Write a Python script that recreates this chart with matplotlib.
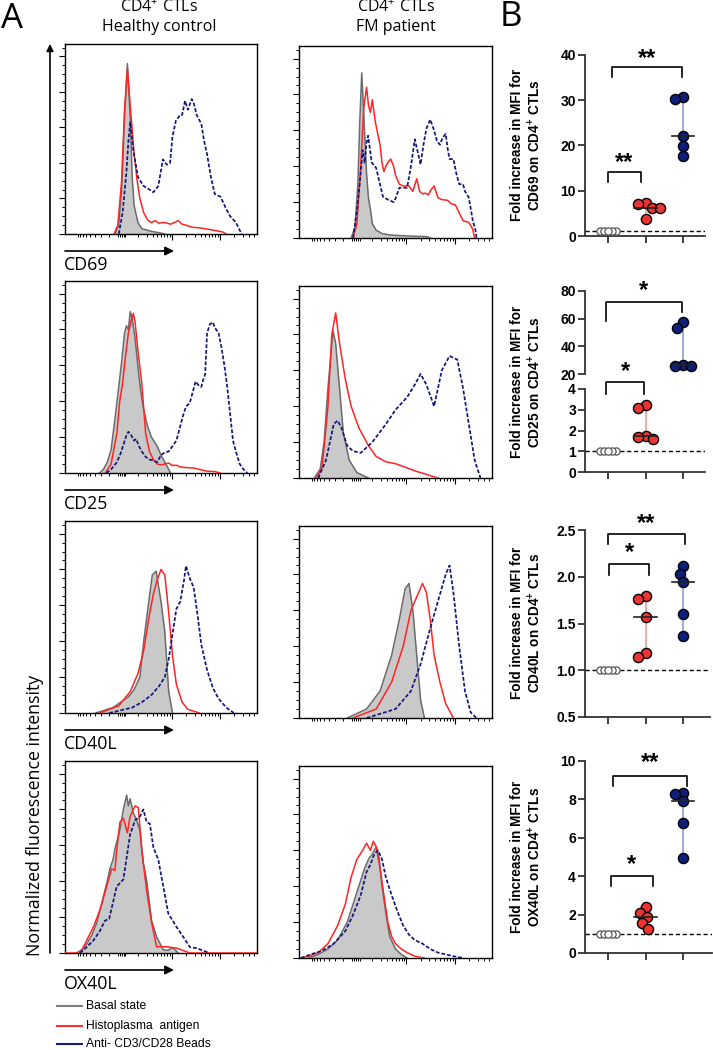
import numpy as np
import matplotlib
matplotlib.use('Agg')
import matplotlib.pyplot as plt

plt.rcParams['mathtext.fontset'] = 'custom'
plt.rcParams['mathtext.rm'] = 'Open Sans'
plt.rcParams['mathtext.bf'] = 'Liberation Sans:bold'

# ---------------- Panel A data: histograms (channel position 0-100, % of mode) --------------
HC_CD69_BASAL = [(26,0),(28,5),(29.5,25),(31,65),(32.5,96),(34,65),(35,32),(36,16),(38,6.5),(40,3),(45,1.5),(50,0.5),(52,0)]
HC_CD69_ANTIGEN = [(25.5,0),(27.5,5),(29.5,30),(31,70),(32.5,93),(34,72),(36,45),(37.6,30),(39,20),(41,12),(43,8),(45,6.4),(47,7.5),(49,6),(51,6.5),(53,6.2),(55,5.5),(57,6.5),(59,7.5),(61,5.5),(63,5),(66,3.8),(70,3.5),(74,2.8),(78,2),(82,1.2),(84,0)]
HC_CD69_BEADS = [(28,0),(30,12),(32,35),(33,52),(34,63),(35.6,47),(38,32),(41,27),(44,25),(46,23.5),(48.6,27),(51,42),(53,39),(54.7,40),(56,55),(57.8,64),(60,67),(61,67),(62.5,75),(64,70),(66,76),(67,74),(68.6,67),(71,62),(72.5,52),(74,45),(76,32),(78,22.5),(81,21),(84,14),(86,10),(89,6.5),(92,0)]

FM_CD69_BASAL = [(27,0),(29,6),(30.5,30),(31.5,65),(32.5,92),(33.5,70),(35,36),(36,22),(37,16),(38,8),(40,4.3),(43,2.5),(47,1.7),(50,1.5),(55,1.2),(60,1),(66,0.8),(68,0)]
FM_CD69_ANTIGEN = [(28,0),(30,8),(32,40),(33.5,72),(35,84),(36,74),(37,70),(38,77),(39.5,65),(41,57),(42,52),(43,42),(44,37),(45,40),(46,42),(47.5,44),(49,40),(50,35),(52,30),(54,29),(57,29),(59,26),(61,33),(62.5,26),(64,24.6),(65.5,25),(67,24),(68.5,27),(70,29),(72,22.5),(74,21.4),(77,21),(79,19),(81,18.5),(83,14),(85,9.6),(87,9),(88,8.6),(90,5),(91,0)]
FM_CD69_BEADS = [(28,0),(30,15),(31.6,32),(33,49),(34,42),(35,53),(35.8,57),(37.7,42),(40,39),(41.5,32),(43.5,23),(46,21.4),(49,20),(50,22),(52,28),(54,28),(56,28),(58,40),(60,55),(61.5,48),(63,41),(64.5,52),(66,61),(68,66),(70,60),(71.5,54),(73,52),(74.5,56),(76,58),(77,50),(78,44),(80,44),(81.5,36),(83,30),(85,30),(86,26),(88,22.5),(90,10),(91.5,4),(92,0)]

HC_CD25_BASAL = [(18,0),(20,2),(22,6),(24,13),(26,30),(28,48),(29.5,62),(31,78),(32,82),(33,80),(34,90),(35,86),(36.5,75),(38,59),(39.5,45),(41,35),(43,26),(45,20),(48,15),(50,10),(53,4),(55,0)]
HC_CD25_ANTIGEN = [(21,0),(24,5),(27,22),(28.5,40),(30,50),(31.5,65),(33,78),(34.5,85),(35.6,89),(36.5,84),(38,68),(40,50),(42,22),(44,12),(46,7.5),(48,5),(50,4.5),(52,5),(54,5.5),(56,4.2),(58,4.3),(60,3.4),(63,3),(67,2.8),(70,2),(74,1),(78,0.8),(81,0)]
HC_CD25_BEADS = [(21.5,0),(24,2),(27,6),(29,11),(30.5,16),(32,21),(33,23),(34.5,21),(36,18),(37,19),(38.5,15),(40,12),(42,9),(44,7.5),(46,7),(48,6),(50,10),(52,11.5),(54,12),(56,15),(58,18),(60,26),(61.5,32),(63,37),(65,39),(66.5,45),(68,51),(69.5,49),(71,48),(72,52),(73,55),(74,78),(75.5,83),(77,84),(78,81),(80,78),(81.5,70),(83,60),(84.5,48),(86,33),(87.5,18),(89,12),(91,5),(93,2),(95,0)]

FM_CD25_BASAL = [(8,0),(11,5),(13,20),(15,50),(17.6,82),(19,75),(21,50),(23,25),(26,10),(30,3),(36,0)]
FM_CD25_ANTIGEN = [(9,0),(12,6),(15,40),(17,80),(19,92),(21,75),(24,55),(27,40),(31,28),(36,18),(40,12),(45,9),(50,8),(55,6),(60,4),(66,2),(72,0)]
FM_CD25_BEADS = [(10,0),(14,10),(18,30),(20,32),(22,28),(25,18),(28,15),(32,14),(38,20),(45,30),(50,38),(56,45),(60,52),(63,58),(66,52),(70,40),(74,60),(78,68),(82,66),(85,50),(88,30),(91,10),(94,0)]

HC_CD40L_BASAL = [(16,0),(25,3),(33,9),(36,13),(39,20),(41,40),(44,65),(45.5,77),(47.5,79),(50,62),(52,45),(54,12),(56,0)]
HC_CD40L_ANTIGEN = [(18,0),(28,4),(34,12),(38,22),(41,35),(44,55),(46,66),(48,74),(50,80),(52,77),(54,56),(56,32),(58,16),(61,6),(64,2),(70,0)]
HC_CD40L_BEADS = [(23,0),(35,3),(40,6),(45,10),(49,15),(52,20),(54,30),(56,44),(58,58),(60,62),(62,74),(63,82),(65,75),(67,70),(69,55),(71,38),(74,24),(77,14),(80,8),(84,3),(88,0)]

FM_CD40L_BASAL = [(25,0),(35,5),(42,15),(48,35),(52,55),(55,72),(57,75),(59,60),(61,35),(63,10),(65,0)]
FM_CD40L_ANTIGEN = [(28,0),(40,5),(48,20),(54,40),(58,60),(62,70),(64,75),(66,70),(68,55),(70,35),(73,20),(76,8),(80,0)]
FM_CD40L_BEADS = [(35,0),(50,5),(58,15),(63,30),(68,50),(72,65),(76,80),(78,85),(80,70),(83,40),(86,15),(89,3),(92,0)]

HC_OX40L_BASAL = [(6,0),(9,2),(11.3,5),(14,10),(16.5,16.6),(19,27),(20.8,35),(22,40),(23.4,47),(25,52),(26,58),(28.6,68.5),(30.4,80),(32.1,88),(33,82),(33.9,86),(35.6,78),(37.3,74),(39,68.5),(40.8,50),(42.5,40.7),(45.1,18),(47.7,9),(51.2,1.7),(53.8,1.5),(55,2.5),(56.4,2.7),(59,0)]
HC_OX40L_ANTIGEN = [(0,0),(8,0),(11.3,7),(15,15),(18.2,24),(21.7,37),(24.3,47),(26,46),(26.9,57),(28.6,73),(30.4,75),(32.5,67),(33.9,76),(36.5,82),(38.2,81),(40,57),(42.5,35),(45.1,17),(47.7,3.5),(53,3.5),(58.1,2.7),(63.3,0.7),(65,0),(100,0)]
HC_OX40L_BEADS = [(7.8,0),(11,3),(14.8,7),(18,12),(20.8,18),(23,19),(26.9,37),(30.4,41),(33.9,66),(36.5,74),(39,76),(40.8,80),(42.5,73),(44.2,72),(46,59),(48.6,52),(51.2,37),(53.8,22),(58.1,14.5),(61.6,9),(65.1,3.2),(68.6,2.7),(73,0.9),(75,0)]

FM_OX40L_BASAL = [(5,0),(10,2),(15,5),(20,10),(25,20),(28,30),(31,40),(34,50),(36,55),(38,58),(40,62),(41.5,56),(43,40),(45,25),(47,12),(50,5),(53,2),(56,0)]
FM_OX40L_ANTIGEN = [(1,0),(5,1),(10,3),(15,8),(20,18),(24,30),(27,45),(30,55),(33,60),(35,64),(37,60),(38.5,65),(40,62),(42,50),(44,35),(46,20),(48,12),(50,8),(53,5),(56,3),(60,1),(65,0)]
FM_OX40L_BEADS = [(1,0),(6,2),(12,4),(18,8),(24,15),(28,24),(32,35),(35,48),(37,52),(39,58),(41,60),(43,55),(45,45),(48,35),(51,26),(54,18),(57,13),(60,10),(64,8),(68,5),(72,3),(76,2),(80,1),(85,0)]

MARKERS = ['CD69', 'CD25', 'CD40L', 'OX40L']
COLUMN_TITLES = ['CD4$^{+}$ CTLs\nHealthy control', 'CD4$^{+}$ CTLs\nFM patient']
LEGEND_LABELS = ['Basal state', 'Histoplasma  antigen', 'Anti- CD3/CD28 Beads']

# ---------------- Panel B data: fold increase in MFI ----------------
GROUPS = ['Basal', 'Histoplasma antigen', 'Anti-CD3/CD28']
CD69_BASAL = [1, 1, 1, 1, 1]
CD69_ANTIGEN = [7.4, 7.1, 6.2, 6.1, 3.8]
CD69_BEADS = [30.8, 30.2, 22.1, 19.9, 17.6]
CD25_BASAL = [1, 1, 1, 1, 1]
CD25_ANTIGEN = [3.22, 3.08, 1.75, 1.67, 1.57]
CD25_BEADS = [57.7, 53.6, 26.7, 25.6, 25.5]
CD40L_BASAL = [1, 1, 1, 1, 1]
CD40L_ANTIGEN = [1.79, 1.76, 1.57, 1.18, 1.14]
CD40L_BEADS = [2.11, 2.03, 1.94, 1.60, 1.37]
OX40L_BASAL = [1, 1, 1, 1, 1]
OX40L_ANTIGEN = [2.38, 2.10, 1.89, 1.55, 1.25]
OX40L_BEADS = [8.32, 8.30, 7.90, 6.79, 4.95]

# ---------------- figure ----------------
W, H = 713, 1050
fig = plt.figure(figsize=(W / 100, H / 100), dpi=100)

def px_axes(x0, y0, x1, y1, **kw):
    return fig.add_axes([x0 / W, 1 - y1 / H, (x1 - x0) / W, (y1 - y0) / H], **kw)

GRAY_FILL = '#c9c9c9'
GRAY_LINE = '#6b6b6b'
RED = '#ff2424'
NAVY = '#16167a'
FONT_A = 'Open Sans'
FONT_B = 'Liberation Sans'

dec = 25.1
major_x = [55.6, 80.7]
minor_x = []
for base in (30.5, 55.6, 80.7):
    for k in range(2, 10):
        p = base + dec * np.log10(k)
        if p < 99.5:
            minor_x.append(p)
for k in range(2, 10):
    minor_x.append(30.5 - dec * np.log10(k))
minor_x += [27.5, 28.5, 29.5, 30.5, 31.5]

def draw_hist(ax, basal, antigen, beads):
    bx, by = zip(*basal)
    rx, ry = zip(*antigen)
    ux, uy = zip(*beads)
    ax.fill_between(bx, by, 0, color=GRAY_FILL, lw=0, zorder=1)
    ax.plot(bx, by, color=GRAY_LINE, lw=1.1, zorder=2)
    ax.plot(rx, ry, color=RED, lw=1.1, zorder=3)
    ax.plot(ux, uy, color=NAVY, lw=1.25, ls=(0, (2.2, 1.1)), zorder=4)
    ax.set_xlim(0, 100)
    ax.set_ylim(0, 107)
    ax.set_yticks([0, 20, 40, 60, 80, 100])
    ax.set_yticks(np.arange(0, 106, 5), minor=True)
    ax.set_xticks(major_x)
    ax.set_xticks(minor_x, minor=True)
    ax.tick_params(axis='both', which='major', length=4, width=0.8, direction='out',
                   labelleft=False, labelbottom=False)
    ax.tick_params(axis='both', which='minor', length=2, width=0.7, direction='out')
    for s in ax.spines.values():
        s.set_linewidth(1.0)

hist_data = [
    (HC_CD69_BASAL, HC_CD69_ANTIGEN, HC_CD69_BEADS, FM_CD69_BASAL, FM_CD69_ANTIGEN, FM_CD69_BEADS),
    (HC_CD25_BASAL, HC_CD25_ANTIGEN, HC_CD25_BEADS, FM_CD25_BASAL, FM_CD25_ANTIGEN, FM_CD25_BEADS),
    (HC_CD40L_BASAL, HC_CD40L_ANTIGEN, HC_CD40L_BEADS, FM_CD40L_BASAL, FM_CD40L_ANTIGEN, FM_CD40L_BEADS),
    (HC_OX40L_BASAL, HC_OX40L_ANTIGEN, HC_OX40L_BEADS, FM_OX40L_BASAL, FM_OX40L_ANTIGEN, FM_OX40L_BEADS),
]
hc_rows = [(44, 234), (281, 473), (521, 713), (761, 953)]
fm_rows = [(46, 238), (286, 478), (526, 718), (766, 958)]
hc_x = (65, 257)
fm_x = (299, 492)

ov = px_axes(0, 0, W, H, zorder=10)
ov.set_xlim(0, W)
ov.set_ylim(H, 0)
ov.axis('off')

for i, d in enumerate(hist_data):
    t, b = hc_rows[i]
    ax = px_axes(hc_x[0], t, hc_x[1], b)
    draw_hist(ax, d[0], d[1], d[2])
    t2, b2 = fm_rows[i]
    ax2 = px_axes(fm_x[0], t2, fm_x[1], b2)
    draw_hist(ax2, d[3], d[4], d[5])
    ov.annotate('', xy=(174, b + 17), xytext=(hc_x[0], b + 17),
                arrowprops=dict(arrowstyle='-|>', color='black', lw=1.2, mutation_scale=13,
                                shrinkA=0, shrinkB=0))
    ov.text(hc_x[0] - 1, b + 31, MARKERS[i], fontsize=12.8, family=FONT_A, ha='left', va='center')

ov.annotate('', xy=(50, 44), xytext=(50, 953),
            arrowprops=dict(arrowstyle='-|>', color='black', lw=1.2, mutation_scale=10,
                            shrinkA=0, shrinkB=0))
ov.text(35, 956, 'Normalized fluorescence intensity', rotation=90, fontsize=12.8,
        family=FONT_A, ha='center', va='bottom')

ov.text(12, 19, 'A', fontsize=25, family=FONT_A, ha='center', va='center')
ov.text(511, 17, 'B', fontsize=25, family=FONT_A, ha='center', va='center')
ov.text(159, 17, COLUMN_TITLES[0], fontsize=11.5, family=FONT_A, ha='center', va='center',
        linespacing=1.2)
ov.text(396, 17, COLUMN_TITLES[1], fontsize=11.5, family=FONT_A, ha='center', va='center',
        linespacing=1.2)

for j, (lab, col) in enumerate(zip(LEGEND_LABELS, ['#808080', '#ff3030', '#1a1a8c'])):
    yy = [1006, 1025.5, 1044][j]
    ov.plot([57, 82], [yy, yy], color=col, lw=1.5)
    ov.text(86, yy, lab, fontsize=8.7, family=FONT_B, ha='left', va='center')

# ---------------- Panel B ----------------
CAT_PX = 37.5
CAT0_PX = 608

def b_axes(x1, y0, y1, ylim, yticks, fmt='{:g}', bottom=True):
    ax = px_axes(585, y0, x1, y1)
    ax.set_xlim((585 - CAT0_PX) / CAT_PX, (x1 - CAT0_PX) / CAT_PX)
    ax.set_ylim(*ylim)
    ax.set_yticks(yticks, [fmt.format(v) for v in yticks], fontweight='bold',
                  family=FONT_B, fontsize=10)
    for s in ('top', 'right'):
        ax.spines[s].set_visible(False)
    for s in ('left', 'bottom'):
        ax.spines[s].set_linewidth(1.3)
        ax.spines[s].set_color('#333333')
    if bottom:
        ax.set_xticks([0, 1, 2], ['', '', ''])
        ax.tick_params(axis='x', length=5, width=1.3, color='#333333')
    else:
        ax.spines['bottom'].set_visible(False)
        ax.set_xticks([])
    ax.tick_params(axis='y', length=5, width=1.3, color='#333333', pad=1.5)
    ax.patch.set_alpha(0)
    return ax

def swarm(ax, xc, vals, spacing_px):
    tr = ax.transData
    pxu = tr.transform((xc + 1, 0))[0] - tr.transform((xc, 0))[0]
    order = np.argsort(vals)[::-1]
    offs = np.zeros(len(vals))
    placed = []
    cands = sorted([0.0] + [s * k * 0.25 for k in range(1, 200) for s in (-1, 1)], key=abs)
    for i in order:
        ypx = tr.transform((xc, vals[i]))[1]
        for c in cands:
            if all((c - a) ** 2 + (ypx - b) ** 2 >= spacing_px ** 2 - 1e-6 for a, b in placed):
                placed.append((c, ypx))
                offs[i] = c / pxu
                break
    return xc + offs

def dots(ax, xc, vals, face, err_col, spacing=8.0, ms=7.3, edge='black'):
    vals = np.asarray(vals, float)
    xs = swarm(ax, xc, vals, spacing)
    lo, hi, med = vals.min(), vals.max(), np.median(vals)
    ax.plot([xc, xc], [lo, hi], color=err_col, lw=1.3, zorder=2)
    for v in (lo, hi):
        ax.plot([xc - 0.12, xc + 0.12], [v, v], color=err_col, lw=1.3, zorder=2)
    ax.plot([xc - 0.3, xc + 0.3], [med, med], color='#222222', lw=1.2, zorder=4)
    ax.plot(xs, vals, 'o', ms=ms, mfc=face, mec=edge, mew=1.0, zorder=3, clip_on=False)

def basal_dots(ax, vals):
    vals = np.asarray(vals, float)
    xs = swarm(ax, 0, vals, 3.8)
    ax.plot(xs, vals, 'o', ms=5.2, mfc='white', mec='#555555', mew=0.9, zorder=3, clip_on=False)

def dashed_one(ax):
    ax.axhline(1, color='black', lw=1.0, ls=(0, (3, 2)), zorder=1)

def bracket(ax, x0, x1, y, drop_px_l, drop_px_r, star, star_y):
    tr = ax.transData
    ypx = tr.transform((0, y))[1]
    yl = tr.inverted().transform((0, ypx - drop_px_l))[1]
    yr = tr.inverted().transform((0, ypx - drop_px_r))[1]
    ax.plot([x0, x0, x1, x1], [yl, y, y, yr], color='black', lw=1.2, clip_on=False, zorder=5)
    ax.text((x0 + x1) / 2, star_y, star, ha='center', va='center', fontsize=17,
            fontweight='bold', family=FONT_B, clip_on=False)

def ylabel(yc, marker):
    ov.text(527, yc, 'Fold increase in MFI for\n' + marker + ' on CD4$^{\\mathbf{+}}$ CTLs',
            rotation=90, ha='center', va='center', fontsize=9.8, fontweight='bold',
            family=FONT_B, linespacing=1.12)

red_face = '#ee3333'
blue_face = '#0d1f7a'
red_err = '#f5a3a3'
blue_err = '#9aa3d8'

a1 = b_axes(705, 55, 236, (0, 40), [0, 10, 20, 30, 40])
dashed_one(a1)
basal_dots(a1, CD69_BASAL)
dots(a1, 1, CD69_ANTIGEN, red_face, red_err)
dots(a1, 2, CD69_BEADS, blue_face, blue_err)
bracket(a1, 0, 0.87, 14.2, 10, 10, '**', 16.2)
bracket(a1, 0.1, 1.96, 37.4, 10.5, 10.5, '**', 39.2)
ylabel(145, 'CD69')

a2u = b_axes(705, 291, 374, (20, 80), [20, 40, 60, 80], bottom=False)
a2l = b_axes(705, 389, 472, (0, 4), [0, 1, 2, 3, 4])
dashed_one(a2l)
basal_dots(a2l, CD25_BASAL)
dots(a2l, 1, CD25_ANTIGEN, red_face, red_err)
dots(a2u, 2, CD25_BEADS, blue_face, blue_err)
bracket(a2u, -0.05, 1.96, 72, 19, 10, '*', 80.5)
bracket(a2l, -0.05, 0.96, 4.32, 12, 12, '*', 4.85)
ylabel(382, 'CD25')

a3 = b_axes(710, 530, 717, (0.5, 2.5), [0.5, 1.0, 1.5, 2.0, 2.5], fmt='{:.1f}')
dashed_one(a3)
basal_dots(a3, CD40L_BASAL)
dots(a3, 1, CD40L_ANTIGEN, red_face, red_err)
dots(a3, 2, CD40L_BEADS, blue_face, blue_err)
bracket(a3, 0.03, 1.1, 2.14, 11, 11, '*', 2.26)
bracket(a3, 0.0, 2.05, 2.46, 10, 10, '**', 2.57)
ylabel(623, 'CD40L')

a4 = b_axes(712, 761, 953, (0, 10), [0, 2, 4, 6, 8, 10])
dashed_one(a4)
basal_dots(a4, OX40L_BASAL)
dots(a4, 1, OX40L_ANTIGEN, red_face, red_err)
dots(a4, 2, OX40L_BEADS, blue_face, blue_err)
bracket(a4, 0.07, 1.2, 4.03, 10, 10, '*', 4.6)
bracket(a4, 0.14, 2.1, 9.2, 10, 10, '**', 9.9)
ylabel(857, 'OX40L')

fig.savefig('out.png', dpi=100)
